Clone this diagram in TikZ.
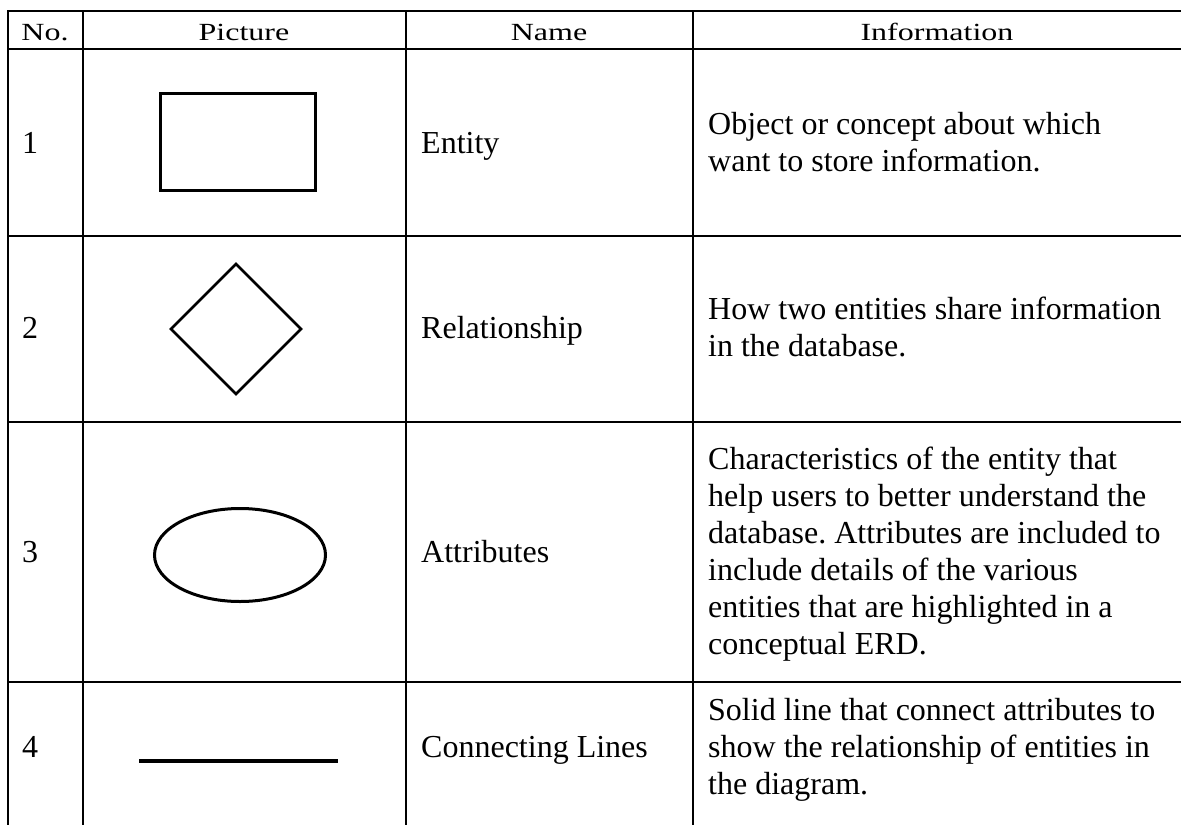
\documentclass[tikz,border=0pt]{standalone}
\usepackage{fontspec}
\usepackage{graphicx}
\setmainfont{Liberation Serif}
\usetikzlibrary{shapes.geometric}
\frenchspacing

\tikzset{
  grid/.style={line width=2pt, black},
  headtext/.style={anchor=base, inner sep=0pt, font=\fontsize{32}{37}\selectfont},
  celltext/.style={anchor=base west, inner sep=0pt, font=\fontsize{32}{37}\selectfont},
  symbol/.style={draw, line width=3pt, fill=none, inner sep=0pt, outer sep=0pt},
}
\newcommand{\headlabel}[1]{\scalebox{1}[0.77]{#1}}

\begin{document}
\begin{tikzpicture}[x=1pt, y=-1pt]
  \useasboundingbox (0,0) rectangle (1181,825);
  \fill[white] (0,0) rectangle (1181,825);

  % table rules
  \draw[grid] (8,11) -- (1181,11);
  \draw[grid] (8,49) -- (1181,49);
  \draw[grid] (8,236) -- (1181,236);
  \draw[grid] (8,422) -- (1181,422);
  \draw[grid] (8,682) -- (1181,682);
  \foreach \xx in {8,82.7,406,693}
    \draw[grid] (\xx,10) -- (\xx,825);

  % header
  \node[headtext] (hNo)   at (45,40)    {\headlabel{No.}};
  \node[headtext] (hPic)  at (244,40)   {\headlabel{Picture}};
  \node[headtext] (hName) at (549,40)   {\headlabel{Name}};
  \node[headtext] (hInfo) at (937,40)   {\headlabel{Information}};

  % row numbers
  \node[celltext] (n1) at (22,153) {1};
  \node[celltext] (n2) at (22,338) {2};
  \node[celltext] (n3) at (22,562) {3};
  \node[celltext] (n4) at (22,757) {4};

  % symbols
  \node[symbol, rectangle, minimum width=155pt, minimum height=97.5pt] (entity) at (238,142) {};
  \node[symbol, diamond, line width=2.7pt, minimum width=130pt, minimum height=130pt] (relation) at (236,329) {};
  \node[symbol, ellipse, minimum width=171pt, minimum height=93pt] (attribute) at (240,555) {};
  \coordinate (lineA) at (139,761);
  \coordinate (lineB) at (338,761);
  \draw[line width=4pt] (lineA) -- (lineB);

  % names
  \node[celltext] (name1) at (421,153) {Entity};
  \node[celltext] (name2) at (421,338) {Relationship};
  \node[celltext] (name3) at (421,562) {Attributes};
  \node[celltext] (name4) at (421,757) {Connecting Lines};

  % information
  \node[celltext] (i1a) at (708,134.5) {Object or concept about which};
  \node[celltext] (i1b) at (708,171.5) {want to store information.};

  \node[celltext] (i2a) at (708,319.5) {How two entities share information};
  \node[celltext] (i2b) at (708,356.5) {in the database.};

  \node[celltext] (i3a) at (708,469.5) {Characteristics of the entity that};
  \node[celltext] (i3b) at (708,506.5) {help users to better understand the};
  \node[celltext] (i3c) at (708,543.5) {database. Attributes are included to};
  \node[celltext] (i3d) at (708,580.5) {include details of the various};
  \node[celltext] (i3e) at (708,617.5) {entities that are highlighted in a};
  \node[celltext] (i3f) at (708,654.5) {conceptual ERD.};

  \node[celltext] (i4a) at (708,720) {Solid line that connect attributes to};
  \node[celltext] (i4b) at (708,757) {show the relationship of entities in};
  \node[celltext] (i4c) at (708,794) {the diagram.};
\end{tikzpicture}
\end{document}
